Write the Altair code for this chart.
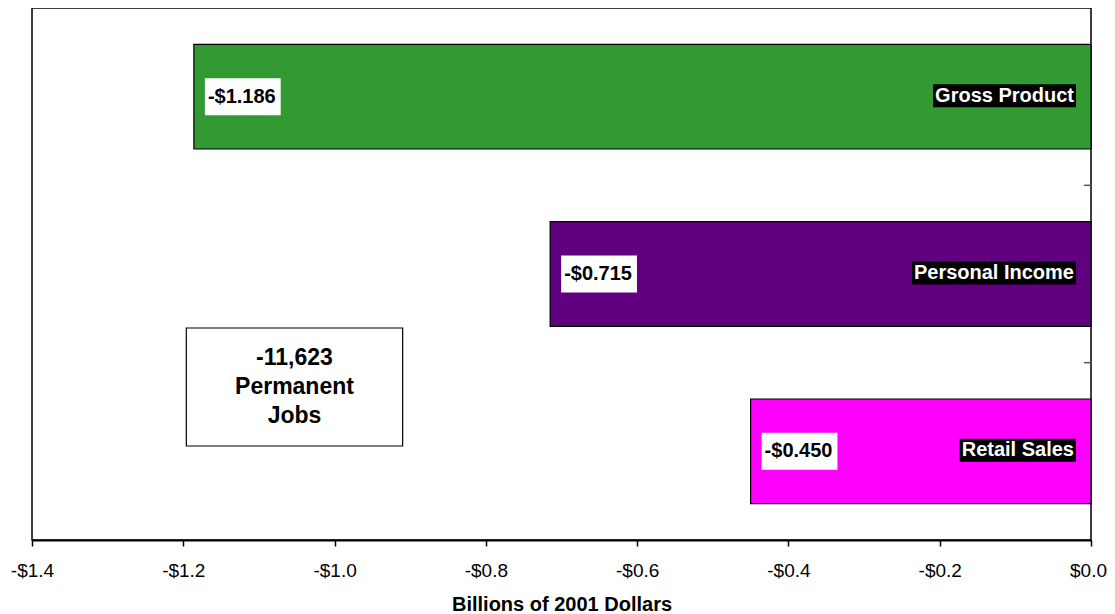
import altair as alt
import pandas as pd

# ---- data ----
categories = ["Gross Product", "Personal Income", "Retail Sales"]
values = [-1.186, -0.715, -0.450]
colors = ["#339933", "#600080", "#FF00FF"]
x_ticks = [-1.4, -1.2, -1.0, -0.8, -0.6, -0.4, -0.2, 0.0]
jobs_lines = ["-11,623", "Permanent", "Jobs"]
jobs_box_x = [-1.196, -0.910]
axis_title = "Billions of 2001 Dollars"

FONT = "Arial, Liberation Sans"
FS = 20
W, H = 1059, 532
P_INNER, P_OUTER = 0.41, 0.205
STEP = H / (len(categories) - P_INNER + 2 * P_OUTER)

# Arial bold advance widths (em) for measuring label backgrounds
BOLD_W = {
    " ": .278, "G": .778, "r": .389, "o": .611, "s": .556, "P": .667, "d": .611,
    "u": .611, "c": .556, "t": .333, "e": .556, "n": .611, "a": .556, "l": .278,
    "I": .278, "m": .889, "R": .722, "i": .278, "S": .667, "-": .333, ".": .278,
    "$": .556,
}


def text_width(s, size=FS):
    return sum(BOLD_W.get(ch, 0.556) for ch in s) * size


df = pd.DataFrame({
    "category": categories,
    "value": values,
    "label": [f"-${abs(v):.3f}" for v in values],
    "zero": [0.0] * len(categories),
    "first": [i == 0 for i in range(len(categories))],
})

xscale = alt.Scale(domain=[x_ticks[0], x_ticks[-1]], nice=False, zero=False)
yscale = alt.Scale(domain=categories, paddingInner=P_INNER, paddingOuter=P_OUTER)

x_axis = alt.Axis(
    values=x_ticks,
    labelExpr="(datum.value < -0.00001 ? '-' : '') + '$' + format(abs(datum.value), '.1f')",
    title=axis_title, grid=False, labelFlush=False,
    labelOffset={"condition": {"test": "datum.value > -0.00001", "value": -3}, "value": 0},
    domainColor="black", domainWidth=2,
    tickColor="black", tickSize=6, tickWidth=1.5,
    labelFont=FONT, labelFontSize=19, labelColor="black", labelPadding=15,
    titleFont=FONT, titleFontSize=20, titleFontWeight="bold", titleColor="black",
    titlePadding=14,
)

base = alt.Chart(df)

bars = base.mark_bar(stroke="black", strokeWidth=1.2).encode(
    x=alt.X("value:Q", scale=xscale, axis=x_axis),
    y=alt.Y("category:N", scale=yscale, axis=None, sort=categories),
    color=alt.Color("category:N", scale=alt.Scale(domain=categories, range=colors), legend=None),
)

# category separator ticks on the right edge (inside the frame)
sep_ticks = base.transform_filter("!datum.first").mark_rule(
    color="#555555", strokeWidth=1.5, yOffset=-STEP / 2, xOffset=-7,
).encode(
    x=alt.X("zero:Q"), x2=alt.X2("zero:Q"),
    y=alt.Y("category:N", sort=categories),
)

value_w = text_width("-$0.000") + 8
value_boxes = base.mark_bar(color="white", height=37, xOffset=11, x2Offset=11 + value_w).encode(
    x=alt.X("value:Q"), x2=alt.X2("value:Q"),
    y=alt.Y("category:N", sort=categories),
)
value_text = base.mark_text(
    align="left", baseline="middle", dx=14, font=FONT, fontSize=FS,
    fontWeight="bold", color="black",
).encode(
    x=alt.X("value:Q"), y=alt.Y("category:N", sort=categories), text="label:N",
)

name_boxes = []
for c in categories:
    w = text_width(c) + 4
    name_boxes.append(
        base.transform_filter(alt.datum.category == c)
        .mark_bar(color="black", height=23, xOffset=-15 - w, x2Offset=-15, yOffset=-1)
        .encode(x=alt.X("zero:Q"), x2=alt.X2("zero:Q"), y=alt.Y("category:N", sort=categories))
    )

name_text = base.mark_text(
    align="right", baseline="middle", dx=-17, dy=-1, font=FONT, fontSize=FS,
    fontWeight="bold", color="white",
).encode(
    x=alt.X("zero:Q"), y=alt.Y("category:N", sort=categories), text="category:N",
)

jobs_df = pd.DataFrame({"x": [jobs_box_x[0]], "x2": [jobs_box_x[1]],
                        "xc": [(jobs_box_x[0] + jobs_box_x[1]) / 2]})
jobs_box = alt.Chart(jobs_df).mark_rect(fill="white", stroke="black", strokeWidth=1.2).encode(
    x="x:Q", x2="x2:Q", y=alt.value(320), y2=alt.value(438),
)
jobs_text = alt.Chart(jobs_df).mark_text(
    text=jobs_lines, lineHeight=29, align="center", baseline="middle",
    font=FONT, fontSize=23, fontWeight="bold", color="black",
).encode(x="xc:Q", y=alt.value(350))

chart = alt.layer(
    bars, sep_ticks, value_boxes, value_text, *name_boxes, name_text, jobs_box, jobs_text
).properties(
    width=W, height=H,
    autosize=alt.AutoSizeParams(type="none"),
    padding={"left": 24, "top": 0, "right": 16, "bottom": 74},
    background="white",
).configure_view(stroke="black", strokeWidth=1.5)

chart.save("out.html", embed_options={"renderer": "svg", "actions": False})
